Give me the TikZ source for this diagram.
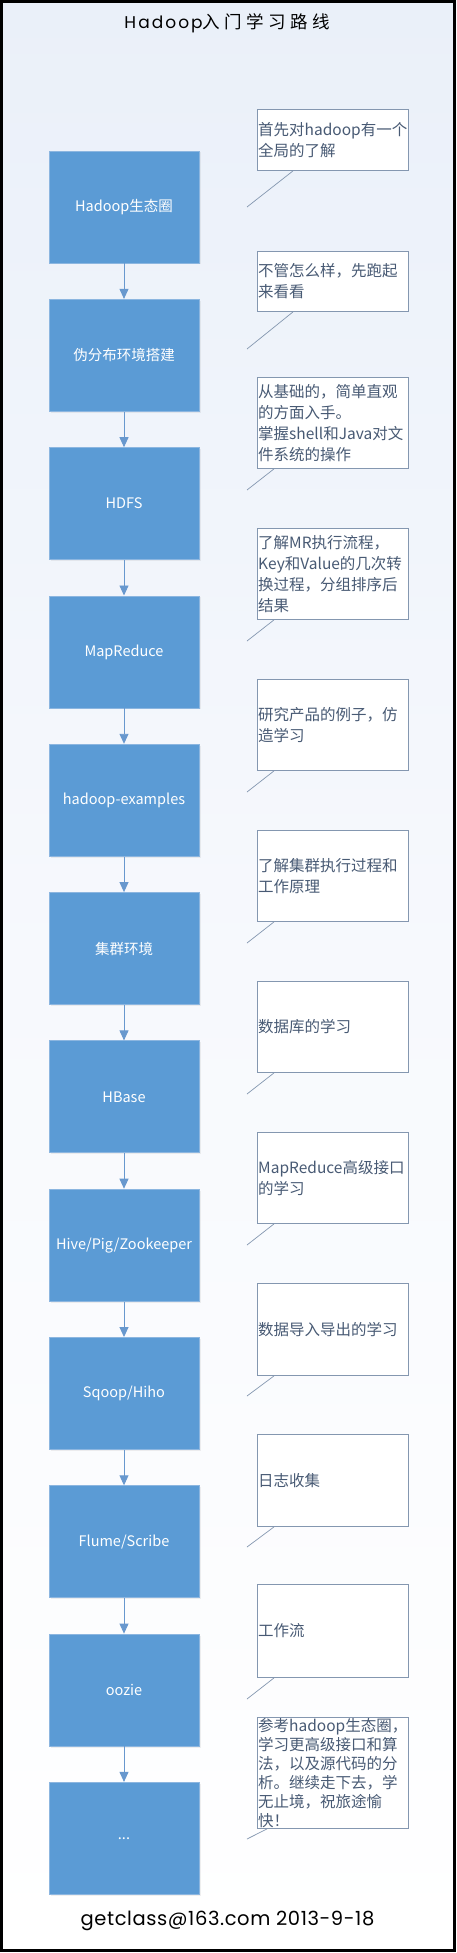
\documentclass[tikz,border=0pt]{standalone}
\usepackage{fontspec}
\setmainfont{Noto Sans CJK SC}
\newfontfamily\geofont{Poppins}
\newfontfamily\titlecjk[LetterSpace=25]{Noto Sans CJK SC}
\usetikzlibrary{arrows.meta,shadows}
\definecolor{boxblue}{RGB}{91,155,213}
\definecolor{boxedge}{RGB}{140,182,224}
\definecolor{arrowblue}{RGB}{104,152,206}
\definecolor{calloutedge}{RGB}{132,151,176}
\definecolor{callouttext}{RGB}{72,90,116}
\definecolor{bgtop}{RGB}{234,240,249}
\begin{document}
\begin{tikzpicture}[x=1pt,y=-1pt,
  stepbox/.style={rectangle, fill=boxblue, draw=boxedge, line width=0.8pt,
    minimum width=150pt, minimum height=112pt, inner sep=0pt, text=white,
    font=\fontsize{14.5}{17}\selectfont,
    drop shadow={opacity=0.12, shadow xshift=1.5pt, shadow yshift=-1.5pt}},
  flowarrow/.style={draw=arrowblue, line width=0.9pt, -{Triangle[length=10pt,width=9pt]}},
  callbox/.style={rectangle, fill=white, draw=calloutedge, line width=0.9pt,
    minimum width=151pt, inner sep=0pt, anchor=north west},
  calltext/.style={anchor=west, align=left, inner sep=0pt, text=callouttext,
    font=\fontsize{15.5}{20.8}\selectfont},
  pointer/.style={draw=calloutedge, line width=0.7pt}
]
\useasboundingbox (0,0) rectangle (456,1953);
\shade[top color=bgtop, bottom color=white, middle color={rgb,255:red,247;green,249;blue,253}] (0,0) rectangle (456,1953);
\draw[line width=2.6pt, black] (1.3,1.3) rectangle (454.2,1950.4);

% title and footer
\node[inner sep=0pt] (title) at (227,23) {{\geofont\fontsize{17}{20}\selectfont\addfontfeatures{LetterSpace=12}Hadoop}{\titlecjk\fontsize{17.5}{20}\selectfont 入门学习路线}};
\node[inner sep=0pt] (footer) at (227.5,1921) {\geofont\fontsize{19.5}{22}\selectfont\addfontfeatures{LetterSpace=3}getclass@163.com 2013-9-18};

% main boxes
\node[stepbox] (b1) at (124,207.0) {Hadoop生态圈};
\node[stepbox] (b2) at (124,355.3) {伪分布环境搭建};
\node[stepbox] (b3) at (124,503.6) {HDFS};
\node[stepbox] (b4) at (124,651.9) {MapReduce};
\node[stepbox] (b5) at (124,800.2) {hadoop-examples};
\node[stepbox] (b6) at (124,948.5) {集群环境};
\node[stepbox] (b7) at (124,1096.8) {HBase};
\node[stepbox] (b8) at (124,1245.1) {Hive/Pig/Zookeeper};
\node[stepbox] (b9) at (124,1393.4) {Sqoop/Hiho};
\node[stepbox] (b10) at (124,1541.7) {Flume/Scribe};
\node[stepbox] (b11) at (124,1690.0) {oozie};
\node[stepbox] (b12) at (124,1838.3) {...};

\foreach \a/\b in {b1/b2,b2/b3,b3/b4,b4/b5,b5/b6,b6/b7,b7/b8,b8/b9,b9/b10,b10/b11,b11/b12}
  \draw[flowarrow] (\a.south) -- (\b.north);

% callouts
\node[callbox, minimum height=61pt] (c1) at (257,109) {};
\node[callbox, minimum height=60pt] (c2) at (257,251) {};
\node[callbox, minimum height=91pt] (c3) at (257,377) {};
\node[callbox, minimum height=91pt] (c4) at (257,528) {};
\node[callbox, minimum height=91pt] (c5) at (257,679) {};
\node[callbox, minimum height=91pt] (c6) at (257,830) {};
\node[callbox, minimum height=91pt] (c7) at (257,981) {};
\node[callbox, minimum height=91pt] (c8) at (257,1132) {};
\node[callbox, minimum height=92pt] (c9) at (257,1283) {};
\node[callbox, minimum height=92pt] (c10) at (257,1434) {};
\node[callbox, minimum height=93pt] (c11) at (257,1584) {};
\node[callbox, minimum height=111pt] (c12) at (257,1717) {};

\node[calltext] (t1) at ([xshift=1pt]c1.west) {首先对hadoop有一个\\全局的了解};
\node[calltext] (t2) at ([xshift=1pt]c2.west) {不管怎么样，先跑起\\来看看};
\node[calltext] (t3) at ([xshift=1pt]c3.west) {从基础的，简单直观\\的方面入手。\\掌握shell和Java对文\\件系统的操作};
\node[calltext] (t4) at ([xshift=1pt]c4.west) {了解MR执行流程，\\Key和Value的几次转\\换过程，分组排序后\\结果};
\node[calltext] (t5) at ([xshift=1pt]c5.west) {研究产品的例子，仿\\造学习};
\node[calltext] (t6) at ([xshift=1pt]c6.west) {了解集群执行过程和\\工作原理};
\node[calltext] (t7) at ([xshift=1pt]c7.west) {数据库的学习};
\node[calltext] (t8) at ([xshift=1pt]c8.west) {MapReduce高级接口\\的学习};
\node[calltext] (t9) at ([xshift=1pt]c9.west) {数据导入导出的学习};
\node[calltext] (t10) at ([xshift=1pt]c10.west) {日志收集};
\node[calltext] (t11) at ([xshift=1pt]c11.west) {工作流};
\node[calltext, font=\fontsize{15.5}{19}\selectfont] (t12) at ([xshift=1pt]c12.west) {参考hadoop生态圈，\\学习更高级接口和算\\法，以及源代码的分\\析。继续走下去，学\\无止境，祝旅途愉\\快！};

% pointer tips
\coordinate (p1) at (247,207);
\coordinate (p2) at (247,349);
\coordinate (p3) at (247,490);
\coordinate (p4) at (247,641);
\coordinate (p5) at (247,792);
\coordinate (p6) at (247,943);
\coordinate (p7) at (247,1094);
\coordinate (p8) at (247,1245);
\coordinate (p9) at (247,1396);
\coordinate (p10) at (247,1547);
\coordinate (p11) at (247,1699);
\coordinate (p12) at (247,1839);

\draw[pointer] ([xshift=36pt]c1.south west) -- (p1);
\draw[pointer] ([xshift=36pt]c2.south west) -- (p2);
\foreach \i in {3,...,11}
  \draw[pointer] ([xshift=17pt]c\i.south west) -- (p\i);
\draw[pointer] ([xshift=10pt]c12.south west) -- (p12);
\end{tikzpicture}
\end{document}
